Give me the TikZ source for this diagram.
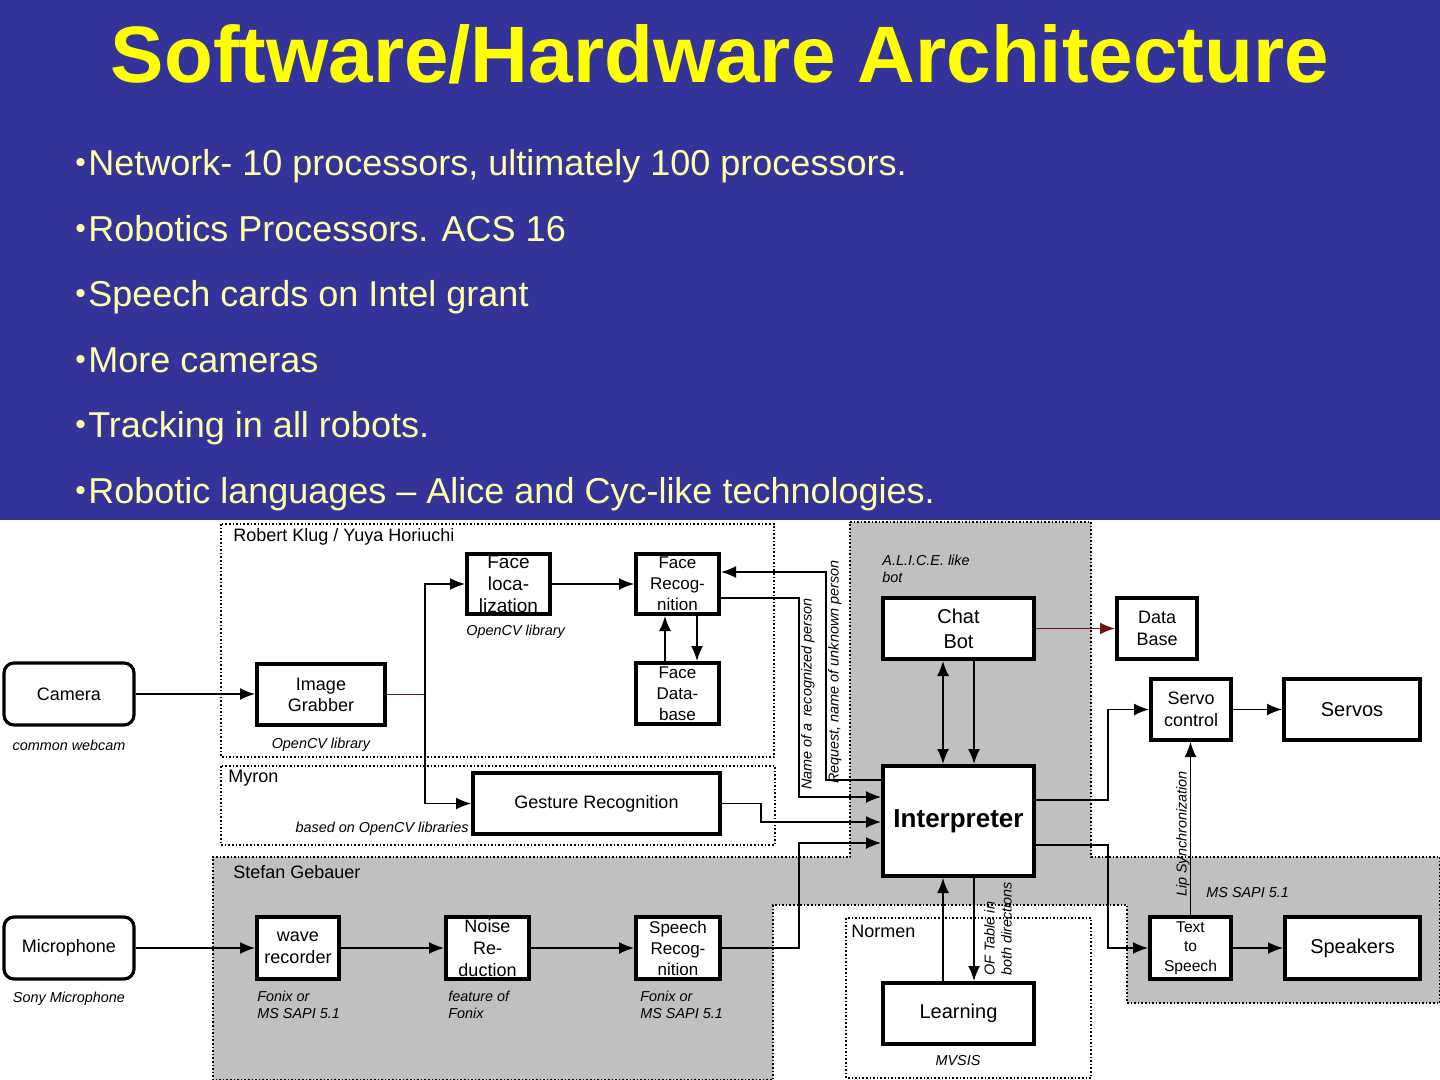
\documentclass[tikz,border=0pt]{standalone}
\usepackage{fontspec}
\setmainfont{Liberation Sans}
\usetikzlibrary{arrows.meta}
\definecolor{slideBlue}{RGB}{51, 51, 153}
\definecolor{slideYellow}{RGB}{255, 255, 0}
\definecolor{bulletYellow}{RGB}{255, 255, 170}
\definecolor{areaGray}{RGB}{192, 192, 192}
\definecolor{wireRed}{RGB}{110, 20, 20}

\tikzset{
    box/.style={draw, line width=2pt, fill=white, inner sep=0pt, align=center,
        font=\fontsize{9}{10.5}\selectfont},
    device/.style={box, line width=1.6pt, rounded corners=5pt},
    note/.style={font=\fontsize{7.2}{8.5}\selectfont\itshape, inner sep=0pt, align=left},
    owner/.style={anchor=west, inner sep=0pt, font=\fontsize{9}{11}\selectfont},
    area/.style={draw, densely dotted, line width=0.8pt},
    wire/.style={line width=0.75pt, ->}
}

\begin{document}
\begin{tikzpicture}[x=0.5pt, y=-0.5pt, >={Latex[length=7.5pt, width=6pt]}]
    \useasboundingbox (0,0) rectangle (1440,1080);
    % slide header
    \fill[slideBlue] (0,0) rectangle (1440,520);
    \node[anchor=base, text=slideYellow, font=\fontsize{40}{48}\selectfont\bfseries] (title) at (720,83) {Software/Hardware Architecture};
    \foreach \txt [count=\i] in {{Network- 10 processors, ultimately 100 processors.}, {Robotics Processors. ACS 16}, {Speech cards on Intel grant}, {More cameras}, {Tracking in all robots.}, {Robotic languages – Alice and Cyc-like technologies.}}
        \node[anchor=base west, inner sep=0pt, text=bulletYellow, font=\fontsize{18}{20}\selectfont] (bullet\i) at ({75}, {176+65.4*(\i-1)}) {\raisebox{1.5pt}{\fontsize{15}{15}\selectfont •}\hspace{1.2pt}\txt};

    % work areas
    \filldraw[area, fill=areaGray] (850,522) -- (1091,522) -- (1091,857) -- (1440,857) -- (1440,1003) -- (1127,1003) -- (1127,905) -- (773,905) -- (773,1080) -- (213,1080) -- (213,857) -- (850,857) -- cycle;
    \draw[area] (221,524) rectangle (774,757);
    \draw[area] (221,766) rectangle (775,845);
    \draw[area] (846,918) rectangle (1091,1078);
    \node[owner] (klug) at (233,537) {Robert Klug / Yuya Horiuchi};
    \node[owner] (myron) at (228,778) {Myron};
    \node[owner] (gebauer) at (233,872) {Stefan Gebauer};
    \node[owner] (normen) at (851,931) {Normen};

    % blocks
    \node[device, minimum width=65pt, minimum height=31pt] (camera) at (69,694) {Camera};
    \node[device, minimum width=65pt, minimum height=31pt] (mic) at (69,948) {Microphone};
    \node[box, minimum width=64pt, minimum height=30.5pt] (grabber) at (321,694.5) {Image\\Grabber};
    \node[box, minimum width=41.5pt, minimum height=30pt, font=\fontsize{9.5}{10.8}\selectfont] (faceLoc) at (508.5,584) {Face\\loca-\\lization};
    \node[box, minimum width=41.5pt, minimum height=30pt, font=\fontsize{8.5}{10.5}\selectfont] (faceRec) at (677.5,584) {Face\\Recog-\\nition};
    \node[box, minimum width=41.5pt, minimum height=30.5pt, font=\fontsize{8.5}{10.5}\selectfont] (faceDb) at (677.5,693.5) {Face\\Data-\\base};
    \node[box, minimum width=123.5pt, minimum height=30.5pt] (gesture) at (596.5,803.5) {Gesture Recognition};
    \node[box, minimum width=75.5pt, minimum height=30.5pt, font=\fontsize{10}{12.5}\selectfont] (chatBot) at (958.5,628.5) {Chat\\Bot};
    \node[box, minimum width=40pt, minimum height=30.5pt, font=\fontsize{9}{11}\selectfont] (dataBase) at (1157,628.5) {Data\\Base};
    \node[box, minimum width=75.5pt, minimum height=55pt, font=\fontsize{13}{15}\selectfont\bfseries] (interp) at (958.5,821) {Interpreter};
    \node[box, minimum width=40pt, minimum height=30.5pt, font=\fontsize{9}{11}\selectfont] (servoCtl) at (1191,709.5) {Servo\\control};
    \node[box, minimum width=68pt, minimum height=30.5pt, font=\fontsize{10}{12}\selectfont] (servos) at (1352,709.5) {Servos};
    \node[box, minimum width=41pt, minimum height=31pt, font=\fontsize{9}{11}\selectfont] (wave) at (298,948) {wave\\recorder};
    \node[box, minimum width=41.5pt, minimum height=31pt, font=\fontsize{9}{11}\selectfont] (noise) at (487.5,948) {Noise\\Re-\\duction};
    \node[box, minimum width=42pt, minimum height=31pt, font=\fontsize{8.5}{10.5}\selectfont] (speechRec) at (678,948) {Speech\\Recog-\\nition};
    \node[box, minimum width=40.5pt, minimum height=31pt, font=\fontsize{7.8}{9.75}\selectfont] (tts) at (1190.5,948) {Text\\to\\Speech};
    \node[box, minimum width=67.5pt, minimum height=31pt, font=\fontsize{10}{12}\selectfont] (speakers) at (1352.5,948) {Speakers};
    \node[box, minimum width=75.5pt, minimum height=30.5pt, font=\fontsize{10}{12}\selectfont] (learning) at (958.5,1013.5) {Learning};

    % notes
    \node[note] (camNote) at (69,745) {common webcam};
    \node[note] (micNote) at (69,999) {Sony Microphone};
    \node[note] (grabNote) at (321,745) {OpenCV library};
    \node[note, anchor=west] (locNote) at (466,632) {OpenCV library};
    \node[note, anchor=east] (gestNote) at (469,829) {based on OpenCV libraries};
    \node[note, anchor=north west] (botNote) at (882,555) {A.L.I.C.E. like\\bot};
    \node[note, anchor=north west] (waveNote) at (257,991) {Fonix or\\MS SAPI 5.1};
    \node[note, anchor=north west] (noiseNote) at (448,991) {feature of\\Fonix};
    \node[note, anchor=north west] (speechNote) at (640,991) {Fonix or\\MS SAPI 5.1};
    \node[note, anchor=west] (ttsNote) at (1206,893) {MS SAPI 5.1};
    \node[note] (learnNote) at (958,1061) {MVSIS};

    % connections
    \coordinate (split) at (425,694.5);
    \draw[wire] (camera.east) -- (camera.east -| grabber.west);
    \draw[wireRed, line width=0.75pt] (grabber.east) -- (split);
    \draw[wire] (split) |- (faceLoc.west);
    \draw[wire] (split) |- (gesture.west);
    \draw[wire] (faceLoc) -- (faceRec);
    \draw[wire] (faceRec.south -| 697,0) -- (faceDb.north -| 697,0);
    \draw[wire] (faceDb.north -| 665,0) -- (faceRec.south -| 665,0);
    \draw[wire] (interp.west |- 0,780) -| (826,572) -- (faceRec.east |- 0,572);
    \draw[wire] (faceRec.east |- 0,598) -| (799,797) -- (interp.west |- 0,797);
    \draw[wire] (gesture.east) -| (761,822) -- (interp.west |- 0,822);
    \draw[wire] (speechRec.east) -| (799,843) -- (interp.west |- 0,843);
    \draw[line width=0.75pt, <->] (chatBot.south -| 943,0) -- (interp.north -| 943,0);
    \draw[wire] (chatBot.south -| 974,0) -- (interp.north -| 974,0);
    \draw[wire, wireRed] (chatBot) -- (dataBase);
    \draw[wire] (interp.east |- 0,800) -| (1108,709.5) -- (servoCtl.west);
    \draw[wire] (servoCtl) -- (servos);
    \draw[wire] (interp.east |- 0,845) -| (1108,948) -- (tts.west);
    \draw[wire] (tts) -- (speakers);
    \draw[wire] (tts.north) -- (tts.north |- servoCtl.south);
    \draw[wire] (learning.north -| 943,0) -- (interp.south -| 943,0);
    \draw[wire] (interp.south -| 974,0) -- (learning.north -| 974,0);
    \draw[wire] (mic) -- (wave);
    \draw[wire] (wave) -- (noise);
    \draw[wire] (noise) -- (speechRec);

    % wire labels
    \node[note, rotate=90] (nameLbl) at (808,694) {Name of a\, recognized person};
    \node[note, rotate=90] (requestLbl) at (835,672) {Request, name of unknown person};
    \node[note, rotate=90] (lipLbl) at (1183,834) {Lip Synchronization};
    \node[note, rotate=90] (tableLbl) at (998,929) {OF Table in\\both directions};
\end{tikzpicture}
\end{document}
